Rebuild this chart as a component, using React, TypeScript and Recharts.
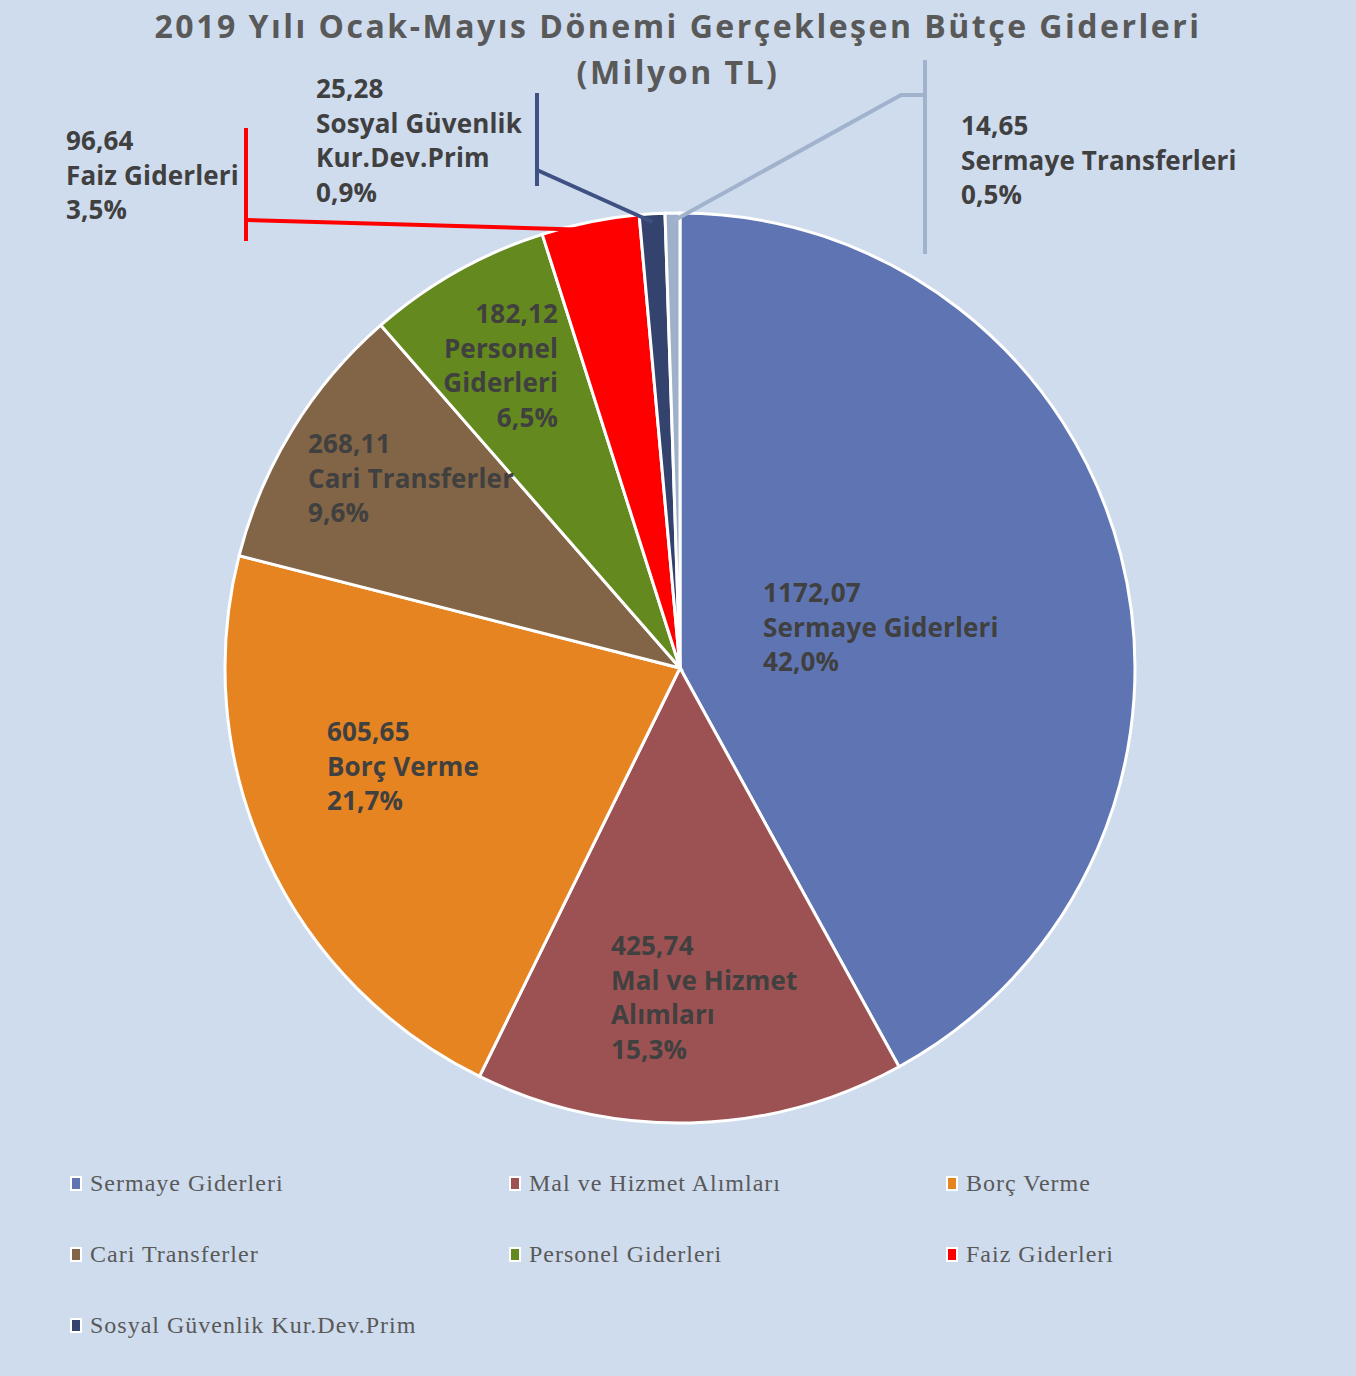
import React from 'react';
import { PieChart, Pie, Cell } from 'recharts';

const categories = [
  'Sermaye Giderleri',
  'Mal ve Hizmet Alımları',
  'Borç Verme',
  'Cari Transferler',
  'Personel Giderleri',
  'Faiz Giderleri',
  'Sosyal Güvenlik Kur.Dev.Prim',
  'Sermaye Transferleri',
];
const values = [1172.07, 425.74, 605.65, 268.11, 182.12, 96.64, 25.28, 14.65];
const colors = ['#5F75B3', '#9C5252', '#E68422', '#826546', '#64891F', '#FF0000', '#34436E', '#9FB1CA'];
const labelNameLines = [
  ['Sermaye Giderleri'],
  ['Mal ve Hizmet', 'Alımları'],
  ['Borç Verme'],
  ['Cari Transferler'],
  ['Personel', 'Giderleri'],
  ['Faiz Giderleri'],
  ['Sosyal Güvenlik', 'Kur.Dev.Prim'],
  ['Sermaye Transferleri'],
];
const legendCount = 7;
const titleLines = ['2019 Yılı Ocak-Mayıs Dönemi Gerçekleşen Bütçe Giderleri', '(Milyon TL)'];

const data = categories.map((name, i) => ({ name, value: values[i] }));

// label layout, pixels relative to pie centre
const labelLayout: { x: number; y: number; anchor: 'start' | 'end' }[] = [
  { x: 83, y: -76, anchor: 'start' },
  { x: -69, y: 277, anchor: 'start' },
  { x: -353, y: 63, anchor: 'start' },
  { x: -372, y: -225, anchor: 'start' },
  { x: -122, y: -355, anchor: 'end' },
  { x: -614, y: -528, anchor: 'start' },
  { x: -364, y: -580, anchor: 'start' },
  { x: 281, y: -543, anchor: 'start' },
];
const leaderLayout: Record<number, { bx: number; y1: number; y2: number; ey: number; ex?: number; color: string }> = {
  5: { bx: -434, y1: -540, y2: -427, ey: -448, color: '#FF0000' },
  6: { bx: -143, y1: -575, y2: -482, ey: -498, color: '#3F5082' },
  7: { bx: 245, y1: -608, y2: -414, ey: -573, ex: 221, color: '#A1B3CC' },
};

const RAD = Math.PI / 180;
const LABEL_FONT = '"Open Sans", sans-serif';
const LINE_H = 34.5;

const fmtNum = (v: number) => v.toFixed(2).replace('.', ',');
const fmtPct = (p: number) => (p * 100).toFixed(1).replace('.', ',') + '%';

const renderLabel = (props: any) => {
  const { cx, cy, midAngle, outerRadius, index, value, percent } = props;
  const lay = labelLayout[index];
  const lines = [fmtNum(value), ...labelNameLines[index], fmtPct(percent)];
  const tx = cx + lay.x;
  const ty = cy + lay.y;
  const lead = leaderLayout[index];
  let leader = null;
  if (lead) {
    const r = outerRadius * 0.982;
    const px = cx + r * Math.cos(-midAngle * RAD);
    const py = cy + r * Math.sin(-midAngle * RAD);
    const pts =
      lead.ex !== undefined
        ? `${cx + lead.bx},${cy + lead.ey} ${cx + lead.ex},${cy + lead.ey} ${px},${py}`
        : `${cx + lead.bx},${cy + lead.ey} ${px},${py}`;
    leader = (
      <g>
        <line x1={cx + lead.bx} y1={cy + lead.y1} x2={cx + lead.bx} y2={cy + lead.y2} stroke={lead.color} strokeWidth={4} />
        <polyline points={pts} fill="none" stroke={lead.color} strokeWidth={4} />
      </g>
    );
  }
  return (
    <g key={`lbl-${index}`}>
      {leader}
      <text
        x={tx}
        y={ty}
        textAnchor={lay.anchor}
        fill="#404040"
        style={{ fontFamily: LABEL_FONT, fontWeight: 700, fontSize: 26, letterSpacing: 0.15 }}
      >
        {lines.map((l, i) => (
          <tspan key={i} x={tx} y={ty + i * LINE_H} dominantBaseline="central">
            {l}
          </tspan>
        ))}
      </text>
    </g>
  );
};

function LegendBox() {
  const items = categories.slice(0, legendCount);
  return (
    <div
      style={{
        position: 'absolute',
        top: 1148,
        left: 70,
        display: 'grid',
        gridTemplateColumns: '439px 437px 400px',
        fontFamily: '"Liberation Serif", serif',
        fontSize: 24,
        letterSpacing: 1,
        color: '#595959',
      }}
    >
      {items.map((name, i) => (
        <div key={name} style={{ display: 'flex', alignItems: 'center', height: 71 }}>
          <span
            style={{
              display: 'inline-block',
              width: 8,
              height: 11,
              background: colors[i],
              border: '2px solid #fff',
              marginRight: 8,
            }}
          />
          <span>{name}</span>
        </div>
      ))}
    </div>
  );
}

export default function App() {
  return (
    <div
      style={{
        position: 'absolute',
        left: 0,
        top: 0,
        width: 1356,
        height: 1376,
        background: '#CFDCEE',
        overflow: 'hidden',
      }}
    >
      <PieChart
        width={1356}
        height={1376}
        margin={{ top: 0, right: 0, bottom: 0, left: 0 }}
        style={{ position: 'absolute', left: 0, top: 0 }}
      >
        <Pie
          data={data}
          dataKey="value"
          nameKey="name"
          cx={680}
          cy={668}
          outerRadius={455}
          startAngle={90}
          endAngle={-270}
          stroke="#FFFFFF"
          strokeWidth={3}
          label={renderLabel}
          labelLine={false}
          isAnimationActive={false}
        >
          {data.map((d, i) => (
            <Cell key={d.name} fill={colors[i]} />
          ))}
        </Pie>
      </PieChart>
      <LegendBox />
      <div
        style={{
          position: 'absolute',
          top: 3,
          left: 0,
          width: 1356,
          textAlign: 'center',
          fontFamily: LABEL_FONT,
          fontWeight: 700,
          fontSize: 32,
          letterSpacing: 2.5,
          lineHeight: '46px',
          color: '#595959',
        }}
      >
        {titleLines.map((t) => (
          <div key={t}>{t}</div>
        ))}
      </div>
    </div>
  );
}
